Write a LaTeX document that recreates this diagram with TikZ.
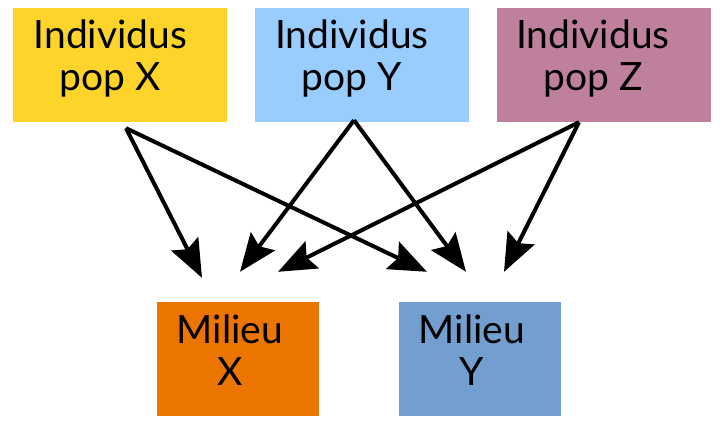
\documentclass[tikz,border=0pt]{standalone}
\usepackage{fontspec}
\setmainfont{Lato}
\usetikzlibrary{arrows.meta}
\definecolor{popXcol}{HTML}{FFD42A}
\definecolor{popYcol}{HTML}{99CCFF}
\definecolor{popZcol}{HTML}{BF809E}
\definecolor{milXcol}{HTML}{EB7500}
\definecolor{milYcol}{HTML}{729FCF}
\begin{document}
\begin{tikzpicture}[x=1pt,y=-1pt,
		popbox/.style={rectangle, inner sep=0pt, minimum width=214pt, minimum height=114pt},
		milbox/.style={rectangle, inner sep=0pt, minimum width=162pt, minimum height=114pt},
		lbl/.style={anchor=north, inner sep=0pt, align=center, font=\fontsize{39}{42}\selectfont},
		arr/.style={-{Stealth[length=38pt,width=30pt,inset=6pt]}, line width=4pt}]
		\useasboundingbox (0,0) rectangle (721,424);

		% Population boxes
		\node[popbox, fill=popXcol] (popX) at (120,65) {};
		\node[popbox, fill=popYcol] (popY) at (362,65) {};
		\node[popbox, fill=popZcol] (popZ) at (603.5,65) {};

		% Milieu boxes
		\node[milbox, fill=milXcol] (milX) at (238,359) {};
		\node[milbox, fill=milYcol] (milY) at (480,359) {};

		% Labels
		\node[lbl] (popXlbl) at (110.5,20) {Individus\\pop X};
		\node[lbl] (popYlbl) at (352,20) {Individus\\pop Y};
		\node[lbl] (popZlbl) at (593,20) {Individus\\pop Z};
		\node[lbl] (milXlbl) at (230,315) {Milieu\\X};
		\node[lbl] (milYlbl) at (472,315) {Milieu\\Y};

		% Arrows from populations to milieux
		\draw[arr] ([xshift=6pt,yshift=-6pt]popX.south) -- ([xshift=-36pt,yshift=24pt]milX.north);
		\draw[arr] ([xshift=6pt,yshift=-6pt]popX.south) -- ([xshift=-53pt,yshift=30pt]milY.north);
		\draw[arr] ([xshift=-8pt,yshift=2pt]popY.south) -- ([xshift=2pt,yshift=30pt]milX.north);
		\draw[arr] ([xshift=-8pt,yshift=2pt]popY.south) -- ([xshift=-14pt,yshift=30pt]milY.north);
		\draw[arr] ([xshift=-24.5pt]popZ.south) -- ([xshift=40pt,yshift=30pt]milX.north);
		\draw[arr] ([xshift=-24.5pt]popZ.south) -- ([xshift=24pt,yshift=30pt]milY.north);
	\end{tikzpicture}
\end{document}
